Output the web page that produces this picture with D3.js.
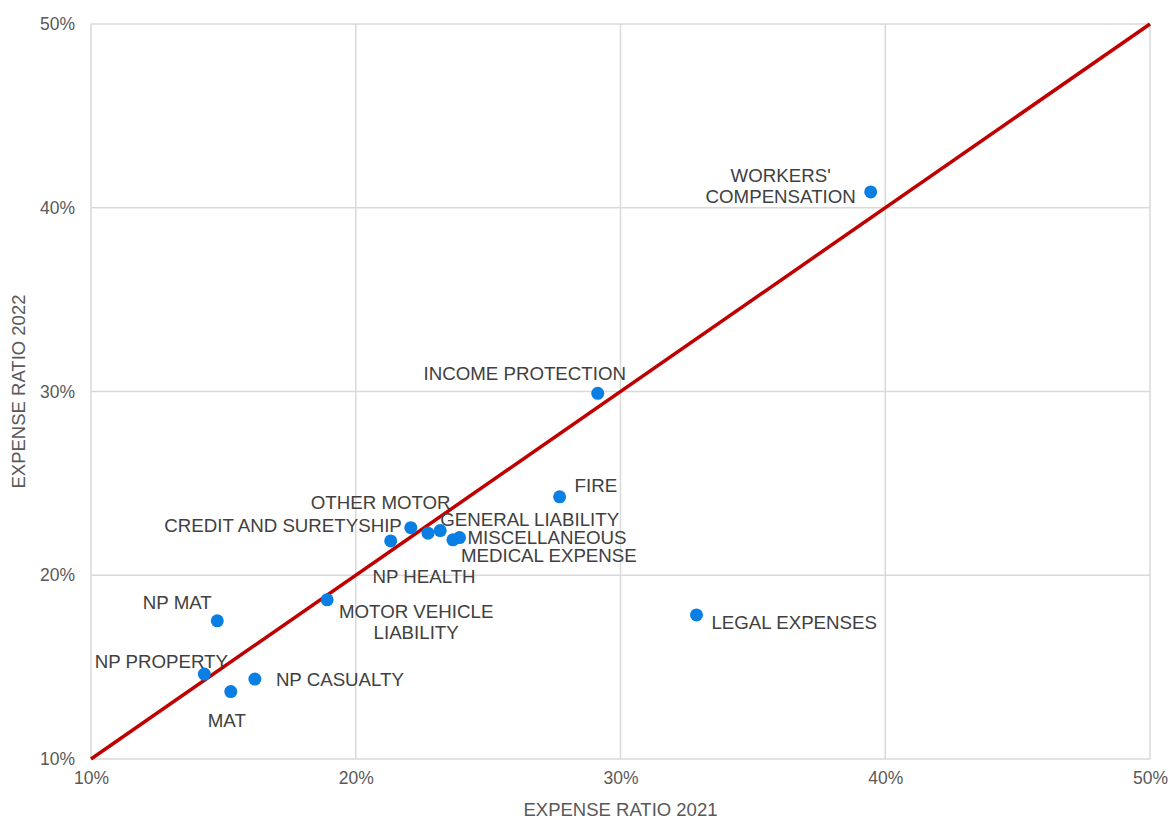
<!DOCTYPE html>
<html>
<head>
<meta charset="utf-8">
<script src="https://cdn.jsdelivr.net/npm/d3@7"></script>
<style>
  html, body { margin: 0; padding: 0; background: #fff; }
  svg { display: block; font-family: "Liberation Sans", Arial, sans-serif; }
</style>
</head>
<body>
<svg id="chart" width="1171" height="819"></svg>
<script>
// Lines of business and their expense ratios (%)
const lines = [
  "WORKERS' COMPENSATION", "INCOME PROTECTION", "FIRE", "LEGAL EXPENSES",
  "CREDIT AND SURETYSHIP", "OTHER MOTOR", "NP HEALTH", "GENERAL LIABILITY",
  "MISCELLANEOUS", "MEDICAL EXPENSE", "MOTOR VEHICLE LIABILITY",
  "NP MAT", "NP PROPERTY", "MAT", "NP CASUALTY"
];
const ratio2021 = [39.45, 29.14, 27.70, 32.87, 22.08, 21.32, 22.73, 23.19, 23.92, 23.67, 18.92, 14.77, 14.28, 15.28, 16.19];
const ratio2022 = [40.86, 29.90, 24.27, 17.84, 22.59, 21.87, 22.29, 22.43, 22.05, 21.93, 18.66, 17.52, 14.62, 13.67, 14.35];
const tickValues = [10, 20, 30, 40, 50];

// Label placement: text lines, anchor and pixel offset (first line) from the point
const labelLayout = [
  { text: ["WORKERS'", "COMPENSATION"], anchor: "middle", dx: -90, dy: -17 },
  { text: ["INCOME PROTECTION"], anchor: "middle", dx: -73, dy: -20 },
  { text: ["FIRE"], anchor: "start", dx: 15, dy: -12 },
  { text: ["LEGAL EXPENSES"], anchor: "start", dx: 15, dy: 7 },
  { text: ["CREDIT AND SURETYSHIP"], anchor: "end", dx: -9, dy: -3 },
  { text: ["OTHER MOTOR"], anchor: "middle", dx: -10, dy: -39 },
  { text: ["NP HEALTH"], anchor: "middle", dx: -4, dy: 43 },
  { text: ["GENERAL LIABILITY"], anchor: "start", dx: 0, dy: -12 },
  { text: ["MISCELLANEOUS"], anchor: "start", dx: 8, dy: -1 },
  { text: ["MEDICAL EXPENSE"], anchor: "start", dx: 8, dy: 15 },
  { text: ["MOTOR VEHICLE", "LIABILITY"], anchor: "middle", dx: 89, dy: 11 },
  { text: ["NP MAT"], anchor: "middle", dx: -40, dy: -19 },
  { text: ["NP PROPERTY"], anchor: "middle", dx: -43, dy: -13 },
  { text: ["MAT"], anchor: "middle", dx: -4, dy: 28 },
  { text: ["NP CASUALTY"], anchor: "start", dx: 21, dy: 0 }
];

const W = 1171, H = 819;
const margin = { top: 24, right: 21, bottom: 60, left: 91 };
const svg = d3.select("#chart");

const x = d3.scaleLinear().domain([10, 50]).range([margin.left, W - margin.right]);
const y = d3.scaleLinear().domain([10, 50]).range([H - margin.bottom, margin.top]);

const fmt = d => d + "%";

// Gridlines
const grid = svg.append("g").attr("stroke", "#d9d9d9").attr("stroke-width", 1.5);
grid.selectAll("line.v").data(tickValues).join("line")
  .attr("x1", d => x(d)).attr("x2", d => x(d))
  .attr("y1", y(10)).attr("y2", y(50));
grid.selectAll("line.h").data(tickValues).join("line")
  .attr("y1", d => y(d)).attr("y2", d => y(d))
  .attr("x1", x(10)).attr("x2", x(50));

// Axes (tick labels only)
const xAxis = svg.append("g")
  .attr("transform", `translate(0,${y(10)})`)
  .call(d3.axisBottom(x).tickValues(tickValues).tickFormat(fmt).tickSize(0).tickPadding(13));
const yAxis = svg.append("g")
  .attr("transform", `translate(${x(10)},0)`)
  .call(d3.axisLeft(y).tickValues(tickValues).tickFormat(fmt).tickSize(0).tickPadding(16));
[xAxis, yAxis].forEach(a => {
  a.select(".domain").remove();
  a.selectAll("text")
    .attr("fill", "#595959")
    .style("font-size", "17.5px")
    .style("font-family", "'Liberation Sans', Arial, sans-serif");
});

// Axis titles
svg.append("text")
  .attr("x", (x(10) + x(50)) / 2).attr("y", 816)
  .attr("text-anchor", "middle").attr("fill", "#595959")
  .style("font-size", "18.5px")
  .text("EXPENSE RATIO 2021");
svg.append("text")
  .attr("transform", `translate(25,${(y(10) + y(50)) / 2}) rotate(-90)`)
  .attr("text-anchor", "middle").attr("fill", "#595959")
  .style("font-size", "18.5px")
  .text("EXPENSE RATIO 2022");

// Parity line
svg.append("line")
  .attr("x1", x(10)).attr("y1", y(10))
  .attr("x2", x(50)).attr("y2", y(50))
  .attr("stroke", "#c00000").attr("stroke-width", 3.5);

// Points
const data = lines.map((name, i) => ({
  name, a: ratio2021[i], b: ratio2022[i], lab: labelLayout[i]
}));

svg.append("g").selectAll("circle").data(data).join("circle")
  .attr("cx", d => x(d.a)).attr("cy", d => y(d.b))
  .attr("r", 6.5).attr("fill", "#0a7fe3");

// Point labels
const lbl = svg.append("g").selectAll("text").data(data).join("text")
  .attr("text-anchor", d => d.lab.anchor)
  .attr("fill", "#404040")
  .style("font-size", "18.7px")
  .attr("x", d => x(d.a) + d.lab.dx)
  .attr("y", d => y(d.b) + d.lab.dy)
  .attr("dominant-baseline", "central");
lbl.each(function(d) {
  const t = d3.select(this);
  d.lab.text.forEach((line, k) => {
    t.append("tspan")
      .attr("x", x(d.a) + d.lab.dx)
      .attr("dy", k === 0 ? 0 : 21.5)
      .text(line);
  });
});
</script>
</body>
</html>
